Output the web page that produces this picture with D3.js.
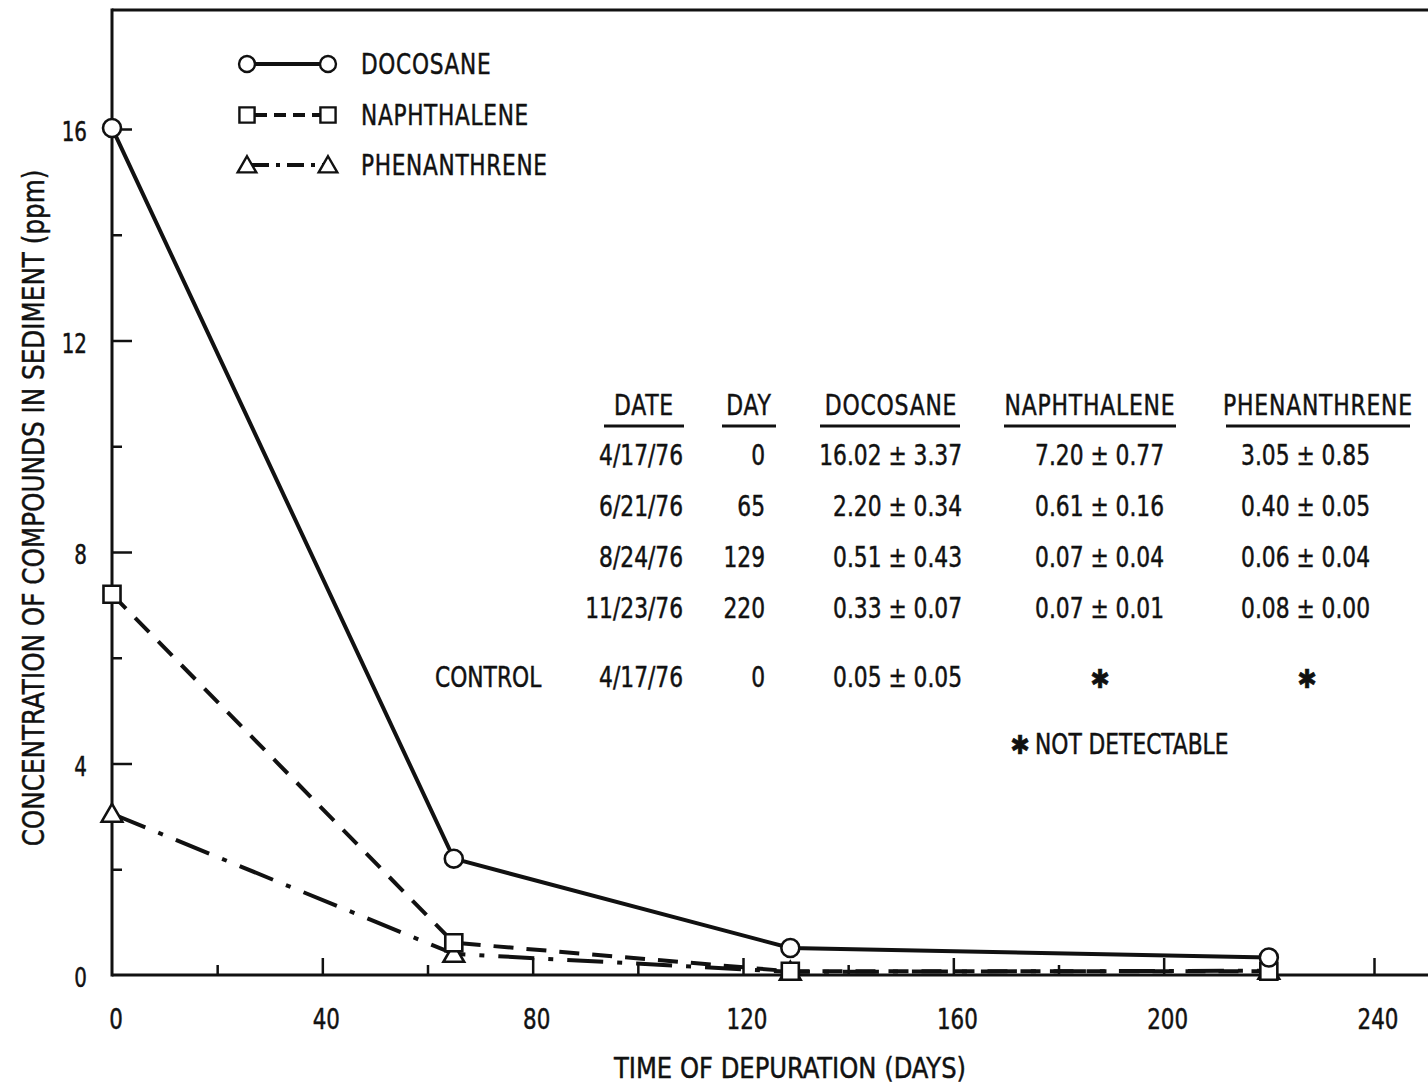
<!DOCTYPE html>
<html>
<head>
<meta charset="utf-8">
<script src="https://cdn.jsdelivr.net/npm/d3@7/dist/d3.min.js"></script>
<style>
  html, body { margin: 0; padding: 0; background: #fff; }
  svg { display: block; }
  text { font-family: "DejaVu Sans Condensed", "DejaVu Sans", sans-serif; font-stretch: condensed;
         fill: #111; stroke: #111; stroke-width: 0.45; }
</style>
</head>
<body>
<script>
// Sampling days and measured concentrations (ppm)
const days = [0, 65, 129, 220];
const dates = ["4/17/76", "6/21/76", "8/24/76", "11/23/76"];
const docosane = [16.02, 2.20, 0.51, 0.33];
const docosaneSD = [3.37, 0.34, 0.43, 0.07];
const naphthalene = [7.20, 0.61, 0.07, 0.07];
const naphthaleneSD = [0.77, 0.16, 0.04, 0.01];
const phenanthrene = [3.05, 0.40, 0.06, 0.08];
const phenanthreneSD = [0.85, 0.05, 0.04, 0.00];

// Control sample
const controlDate = "4/17/76";
const controlDay = 0;
const controlDocosane = [0.05, 0.05];

// Axis ticks
const xTicks = [0, 40, 80, 120, 160, 200, 240];
const xMinorTicks = [20, 60, 100, 140, 180, 220];
const yTicks = [0, 4, 8, 12, 16];
const yMinorTicks = [2, 6, 10, 14];

const W = 1428, H = 1085;
const svg = d3.select("body").append("svg").attr("width", W).attr("height", H);

const x = d3.scaleLinear().domain([0, 240]).range([112, 1374]);
const y = d3.scaleLinear().domain([0, 16]).range([975, 129]);
const plotTop = 10, plotRight = W;

// Narrow text helper: the typeface is squeezed horizontally a little
function label(parent, px, py, s, size, anchor, sx, spacing) {
  return parent.append("text")
    .attr("transform", `translate(${px},${py}) scale(${sx || 0.9},1)`)
    .attr("dy", "0.36em")
    .attr("text-anchor", anchor || "start")
    .attr("font-size", size)
    .attr("letter-spacing", spacing || 0)
    .text(s);
}

// Frame: top border and axes
svg.append("line").attr("x1", x(0)).attr("x2", plotRight).attr("y1", plotTop).attr("y2", plotTop)
  .attr("stroke", "#111").attr("stroke-width", 3);
svg.append("line").attr("x1", x(0)).attr("x2", x(0)).attr("y1", plotTop - 1.5).attr("y2", y(0) + 1.5)
  .attr("stroke", "#111").attr("stroke-width", 3);
svg.append("line").attr("x1", x(0)).attr("x2", plotRight).attr("y1", y(0)).attr("y2", y(0))
  .attr("stroke", "#111").attr("stroke-width", 3);

// Inward ticks on the y axis
const yAxis = d3.axisRight(y).tickValues(yTicks.filter(d => d > 0)).tickSize(20).tickFormat("");
const gy = svg.append("g").attr("transform", `translate(${x(0)},0)`).call(yAxis);
gy.select(".domain").remove();
gy.selectAll(".tick line").attr("stroke", "#111").attr("stroke-width", 2.5);
const yAxisMinor = d3.axisRight(y).tickValues(yMinorTicks).tickSize(10).tickFormat("");
const gym = svg.append("g").attr("transform", `translate(${x(0)},0)`).call(yAxisMinor);
gym.select(".domain").remove();
gym.selectAll(".tick line").attr("stroke", "#111").attr("stroke-width", 2.5);

// y tick labels
const gyl = svg.append("g");
yTicks.forEach(d => label(gyl, 87, y(d) + 3, d, 26, "end", 0.85));

// Inward ticks on the x axis
const xAxis = d3.axisTop(x).tickValues(xTicks.filter(d => d > 0)).tickSize(17).tickFormat("");
const gx = svg.append("g").attr("transform", `translate(0,${y(0)})`).call(xAxis);
gx.select(".domain").remove();
gx.selectAll(".tick line").attr("stroke", "#111").attr("stroke-width", 2.5);
const xAxisMinor = d3.axisTop(x).tickValues(xMinorTicks).tickSize(10).tickFormat("");
const gxm = svg.append("g").attr("transform", `translate(0,${y(0)})`).call(xAxisMinor);
gxm.select(".domain").remove();
gxm.selectAll(".tick line").attr("stroke", "#111").attr("stroke-width", 2.5);

// x tick labels
const gxl = svg.append("g");
xTicks.forEach(d => label(gxl, x(d) + 4, 1019, d, 28, "middle", 0.85));

// Axis titles
label(svg, 790, 1068, "TIME OF DEPURATION (DAYS)", 29, "middle", 0.93);
svg.append("text").attr("transform", "translate(33,508) rotate(-90) scale(0.93,1)").attr("dy", "0.36em")
  .attr("text-anchor", "middle").attr("font-size", 29.5)
  .text("CONCENTRATION OF COMPOUNDS IN SEDIMENT (ppm)");

// Series
const series = [
  { name: "DOCOSANE", values: docosane, dash: null, legendDash: null, marker: d3.symbolCircle, size: 254, lsize: 200, dy: 0 },
  { name: "NAPHTHALENE", values: naphthalene, dash: "20,13", legendDash: "12,7", marker: d3.symbolSquare, size: 290, lsize: 230, dy: 0 },
  { name: "PHENANTHRENE", values: phenanthrene, dash: "36,14,5,14", legendDash: "17,7,4,7", marker: d3.symbolTriangle, size: 185, lsize: 150, dy: 2 }
];

const line = d3.line().x(d => x(d[0])).y(d => y(d[1]));

series.forEach(s => {
  const pts = days.map((d, i) => [d, s.values[i]]);
  svg.append("path").datum(pts).attr("d", line)
    .attr("fill", "none").attr("stroke", "#111").attr("stroke-width", 4)
    .attr("stroke-dasharray", s.dash);
});
series.slice().reverse().forEach(s => {
  const pts = days.map((d, i) => [d, s.values[i]]);
  svg.append("g").selectAll("path").data(pts).join("path")
    .attr("d", d3.symbol(s.marker, s.size)())
    .attr("transform", d => `translate(${x(d[0])},${y(d[1]) + s.dy})`)
    .attr("fill", "#fff").attr("stroke", "#111").attr("stroke-width", 2.6);
});

// Legend
const legendY = [64, 115, 165];
series.forEach((s, i) => {
  const g = svg.append("g");
  g.append("line").attr("x1", 252).attr("x2", 324).attr("y1", legendY[i]).attr("y2", legendY[i])
    .attr("stroke", "#111").attr("stroke-width", 4)
    .attr("stroke-dasharray", s.legendDash)
    .attr("stroke-dashoffset", s.legendDash === "12,7" ? -3 : 0);
  [247, 328].forEach(cx => {
    g.append("path").attr("d", d3.symbol(s.marker, s.lsize)())
      .attr("transform", `translate(${cx},${legendY[i] + s.dy})`)
      .attr("fill", "#fff").attr("stroke", "#111").attr("stroke-width", 2.4);
  });
  label(g, 361, legendY[i], s.name, 28, "start", 0.86, 0.8);
});

// Data table
const fmt = d3.format(".2f");
const headers = [
  { label: "DATE", cx: 644, u0: 604, u1: 684 },
  { label: "DAY", cx: 749, u0: 722, u1: 776 },
  { label: "DOCOSANE", cx: 891, u0: 820, u1: 960 },
  { label: "NAPHTHALENE", cx: 1090, u0: 1004, u1: 1176 },
  { label: "PHENANTHRENE", cx: 1318, u0: 1226, u1: 1410 }
];
const tbl = svg.append("g");
headers.forEach(h => {
  label(tbl, h.cx, 405, h.label, 28, "middle", 0.87, 0.9);
  tbl.append("line").attr("x1", h.u0).attr("x2", h.u1).attr("y1", 426).attr("y2", 426)
    .attr("stroke", "#111").attr("stroke-width", 3);
});
const rowY = [455, 506, 557, 608];
const pm = (v, sd) => `${fmt(v)} ± ${fmt(sd)}`;
const cell = (cx, cyy, t, anchor) => label(tbl, cx, cyy, t, 27.5, anchor || "end", 0.88);
days.forEach((d, i) => {
  const ry = rowY[i];
  cell(683, ry, dates[i]);
  cell(765, ry, d);
  cell(962, ry, pm(docosane[i], docosaneSD[i]));
  cell(1164, ry, pm(naphthalene[i], naphthaleneSD[i]));
  cell(1370, ry, pm(phenanthrene[i], phenanthreneSD[i]));
});
// Control row
const cy = 677;
cell(435, cy, "CONTROL", "start");
cell(683, cy, controlDate);
cell(765, cy, controlDay);
cell(962, cy, pm(controlDocosane[0], controlDocosane[1]));
[1100, 1307].forEach(ax => {
  tbl.append("text").attr("x", ax).attr("y", cy + 2).attr("dy", "0.36em").attr("text-anchor", "middle")
    .attr("font-size", 26).style("font-family", "'DejaVu Sans', sans-serif").text("✱");
});
// Footnote
tbl.append("text").attr("x", 1020).attr("y", 745).attr("dy", "0.36em").attr("text-anchor", "middle")
  .attr("font-size", 26).style("font-family", "'DejaVu Sans', sans-serif").text("✱");
cell(1035, 744, "NOT DETECTABLE", "start");
</script>
</body>
</html>
